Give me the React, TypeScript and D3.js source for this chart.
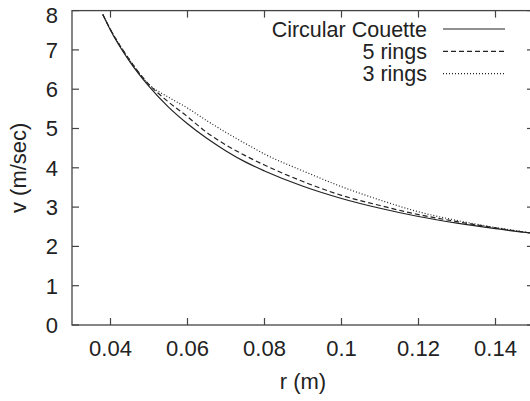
import React from 'react'
import * as d3 from 'd3'

const radius = [0.038, 0.04, 0.045, 0.05, 0.055, 0.06, 0.065, 0.07, 0.075, 0.08, 0.09, 0.1, 0.11, 0.12, 0.13, 0.14, 0.15]

// velocity (m/sec) for each series
const couette = [7.9, 7.5, 6.7, 6.07, 5.55, 5.12, 4.75, 4.43, 4.15, 3.92, 3.53, 3.22, 2.97, 2.76, 2.59, 2.45, 2.33]
const fiveRings = [7.9, 7.52, 6.74, 6.12, 5.68, 5.3, 4.9, 4.58, 4.31, 4.07, 3.65, 3.3, 3.04, 2.81, 2.63, 2.47, 2.33]
const threeRings = [7.9, 7.52, 6.74, 6.12, 5.8, 5.52, 5.2, 4.9, 4.62, 4.35, 3.92, 3.52, 3.18, 2.88, 2.66, 2.48, 2.33]

const seriesNames = ['Circular Couette', '5 rings', '3 rings']
const xTicks = [0.04, 0.06, 0.08, 0.1, 0.12, 0.14]
const yTicks = [0, 1, 2, 3, 4, 5, 6, 7, 8]

const W = 530
const H = 401
const ink = '#222'
const font = '"Liberation Sans", Arial, Helvetica, sans-serif'

export default function App() {
  const x = d3.scaleLinear().domain([0.03, 0.15]).range([72, 534])
  const y = d3.scaleLinear().domain([0, 8]).range([325, 10.6])

  const series = [couette, fiveRings, threeRings]
  const dashes = [undefined, '5,3', '1,2']

  const line = d3.line<number>()
    .x((d, i) => x(radius[i]))
    .y(d => y(d))
    .curve(d3.curveMonotoneX)

  const fmt = (d: number) => String(d)
  const [x0, x1] = x.range()
  const [y0, y1] = y.range()
  const tickLen = 7

  return (
    <svg width={W} height={H} style={{ position: 'absolute', left: 0, top: 0, background: '#fff' }}
      fontFamily={font} fontSize={22} fill={ink}>
      <rect x={0} y={0} width={W} height={H} fill='#fff' />

      {/* frame */}
      <rect x={x0} y={y1} width={x1 - x0} height={y0 - y1} fill='none' stroke='#444' strokeWidth={1.3} />

      {xTicks.map(t => (
        <g key={'x' + t}>
          <line x1={x(t)} x2={x(t)} y1={y0} y2={y0 - tickLen} stroke='#444' strokeWidth={1.2} />
          <line x1={x(t)} x2={x(t)} y1={y1} y2={y1 + tickLen} stroke='#444' strokeWidth={1.2} />
          <text x={x(t)} y={356} textAnchor='middle'>{fmt(t)}</text>
        </g>
      ))}

      {yTicks.map(t => (
        <g key={'y' + t}>
          <line x1={x0} x2={x0 + tickLen} y1={y(t)} y2={y(t)} stroke='#444' strokeWidth={1.2} />
          <line x1={x1} x2={x1 - tickLen} y1={y(t)} y2={y(t)} stroke='#444' strokeWidth={1.2} />
          {/* top label sits a little lower so it stays inside the page */}
          <text x={58} y={Math.max(y(t), 15)} dy='0.36em' textAnchor='end'>{t}</text>
        </g>
      ))}

      <text x={(x0 + x1) / 2} y={389} textAnchor='middle'>r (m)</text>
      <text transform={`translate(26, ${(y0 + y1) / 2}) rotate(-90)`} textAnchor='middle'>v (m/sec)</text>

      {series.map((s, i) => (
        <path key={seriesNames[i]} d={line(s) || ''} fill='none' stroke={ink}
          strokeWidth={1.2} strokeDasharray={dashes[i]} />
      ))}

      {/* legend */}
      {seriesNames.map((name, i) => (
        <g key={'leg' + name}>
          <text x={427} y={36.5 + i * 22.3} fontSize={21.5} textAnchor='end'>{name}</text>
          <line x1={443} x2={505} y1={29 + i * 22.3} y2={29 + i * 22.3} stroke={ink}
            strokeWidth={1.2} strokeDasharray={dashes[i]} />
        </g>
      ))}
    </svg>
  )
}
